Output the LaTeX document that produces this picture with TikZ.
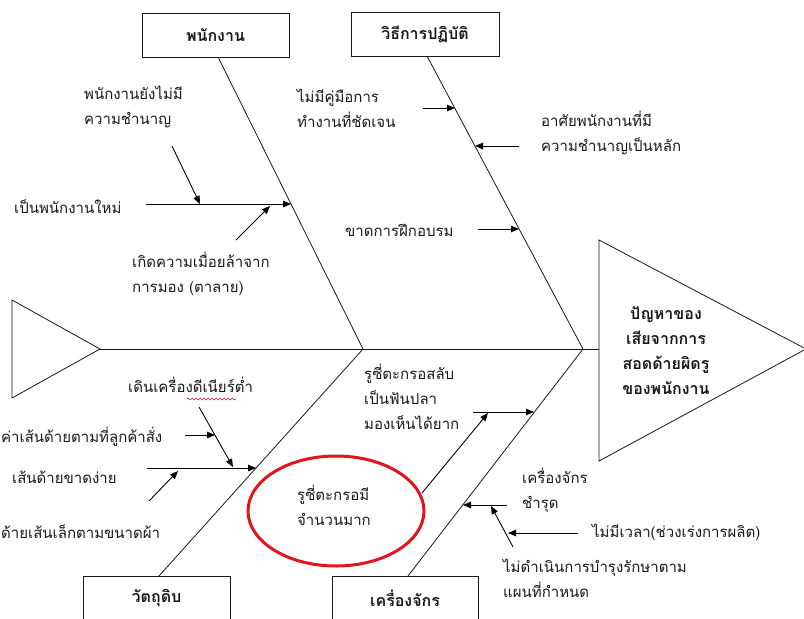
\documentclass[tikz,border=0pt]{standalone}
\usepackage{fontspec}
\newfontfamily\thai[Script=Thai]{Loma}
\usetikzlibrary{arrows.meta,decorations.pathmorphing,shapes.geometric}
\definecolor{ink}{rgb}{0.1,0.1,0.1}
\definecolor{redring}{RGB}{228,20,28}
\begin{document}
\begin{tikzpicture}[x=1pt,y=-1pt,
  bone/.style={draw=ink, line width=0.8pt},
  arr/.style={draw=black, line width=0.9pt, -{Triangle[length=8pt,width=6.5pt]}},
  lbl/.style={font=\thai\fontsize{15}{25}\selectfont, inner sep=0pt, align=left, text=ink},
  catbox/.style={draw=ink, line width=0.9pt, minimum width=147pt, minimum height=44pt, font=\thai\bfseries\fontsize{16}{18}\selectfont, inner sep=0pt, text=ink}
]
\useasboundingbox (0,0) rectangle (804,619);
\clip (0,0) rectangle (804,619);

% category boxes
\node[catbox] (b1) at (215.5,35) {พนักงาน};
\node[catbox, minimum width=148pt] (b2) at (425,34) {วิธีการปฏิบัติ};
\node[catbox] (b3) at (156.5,598) {วัตถุดิบ};
\node[catbox, minimum width=146pt] (b4) at (405,598) {เครื่องจักร};

% spine, tail and head
\coordinate (tt) at (100,349);
\coordinate (hl) at (599,349);
\coordinate (j1) at (363,349);
\coordinate (j2) at (583,349);
\draw[bone] (12,300) -- (tt) -- (12,398) -- cycle;
\draw[bone] (599,240) -- (806,349) -- (599,461) -- cycle;
\draw[bone] (tt) -- (hl);
\node[lbl, align=center, font=\thai\bfseries\fontsize{16}{25}\selectfont] (head) at (666,351) {ปัญหาของ\\เสียจากการ\\สอดด้ายผิดรู\\ของพนักงาน};

% bones
\coordinate (s1) at (218,57);
\coordinate (s2) at (427,56);
\coordinate (s3) at (159,576);
\coordinate (s4) at (408,576);
\draw[bone] (s1) -- (j1);
\draw[bone] (s2) -- (j2);
\draw[bone] (s3) -- (j1);
\draw[bone] (s4) -- (j2);

% ---- พนักงาน
\coordinate (p1a) at (146,204); \coordinate (p1b) at (291,204);
\coordinate (p2a) at (172,146); \coordinate (p2b) at (200,204);
\coordinate (p3a) at (236,240); \coordinate (p3b) at (270,206);
\draw[arr] (p1a) -- (p1b);
\draw[arr] (p2a) -- (p2b);
\draw[arr] (p3a) -- (p3b);
\node[lbl, anchor=west] (t1) at (84,107) {พนักงานยังไม่มี\\ความชำนาญ};
\node[lbl, anchor=west] (t2) at (14,207) {เป็นพนักงานใหม่};
\node[lbl, anchor=west] (t3) at (132,274) {เกิดความเมื่อยล้าจาก\\การมอง (ตาลาย)};

% ---- วิธีการปฏิบัติ
\coordinate (m1a) at (423,108); \coordinate (m1b) at (455,108);
\coordinate (m2a) at (519,146); \coordinate (m2b) at (475,146);
\coordinate (m3a) at (478,229); \coordinate (m3b) at (519,229);
\draw[arr] (m1a) -- (m1b);
\draw[arr] (m2a) -- (m2b);
\draw[arr] (m3a) -- (m3b);
\node[lbl, anchor=west] (t4) at (297,108) {ไม่มีคู่มือการ\\ทำงานที่ชัดเจน};
\node[lbl, anchor=west] (t5) at (541,133) {อาศัยพนักงานที่มี\\ความชำนาญเป็นหลัก};
\node[lbl, anchor=west] (t6) at (345,230) {ขาดการฝึกอบรม};

% ---- วัตถุดิบ
\coordinate (r1a) at (199,407); \coordinate (r1b) at (233,467);
\coordinate (r2a) at (185,435); \coordinate (r2b) at (215,435);
\coordinate (r3a) at (147,468); \coordinate (r3b) at (256,468);
\coordinate (r4a) at (149,501); \coordinate (r4b) at (178,471);
\draw[arr] (r1a) -- (r1b);
\draw[arr] (r2a) -- (r2b);
\draw[arr] (r3a) -- (r3b);
\draw[arr] (r4a) -- (r4b);
\node[lbl, anchor=west] (t7) at (128,385) {เดินเครื่องดีเนียร์ต่ำ};
\draw[redring, line width=0.6pt, decorate, decoration={snake, amplitude=1pt, segment length=4pt}] (187,399) -- (236,399);
\node[lbl, anchor=west] (t8) at (1,437) {ค่าเส้นด้ายตามที่ลูกค้าสั่ง};
\node[lbl, anchor=west] (t9) at (12,477) {เส้นด้ายขาดง่าย};
\node[lbl, anchor=west] (t10) at (1,532) {ด้ายเส้นเล็กตามขนาดผ้า};

% ---- เครื่องจักร
\node[draw=redring, line width=3pt, ellipse, minimum width=176pt, minimum height=110pt, inner sep=0pt] (e) at (336,511) {};
\node[lbl, anchor=west] (t12) at (297,505) {รูซี่ตะกรอมี\\จำนวนมาก};
\coordinate (k1a) at (473,412); \coordinate (k1b) at (534,412);
\coordinate (k2a) at (422,493); \coordinate (k2b) at (488,413);
\coordinate (k3a) at (507,505); \coordinate (k3b) at (463,505);
\coordinate (k4a) at (513,547); \coordinate (k4b) at (491,506);
\coordinate (k5a) at (578,533); \coordinate (k5b) at (508,533);
\draw[arr] (k1a) -- (k1b);
\draw[arr] (k2a) -- (k2b);
\draw[arr] (k3a) -- (k3b);
\draw[arr] (k4a) -- (k4b);
\draw[arr] (k5a) -- (k5b);
\node[lbl, anchor=west] (t11) at (364,397) {รูซี่ตะกรอสลับ\\เป็นฟันปลา\\มองเห็นได้ยาก};
\node[lbl, anchor=west] (t13) at (522,490) {เครื่องจักร\\ชำรุด};
\node[lbl, anchor=west] (t14) at (592,532) {ไม่มีเวลา(ช่วงเร่งการผลิต)};
\node[lbl, anchor=west] (t15) at (503,578) {ไม่ดำเนินการบำรุงรักษาตาม\\แผนที่กำหนด};
\end{tikzpicture}
\end{document}
